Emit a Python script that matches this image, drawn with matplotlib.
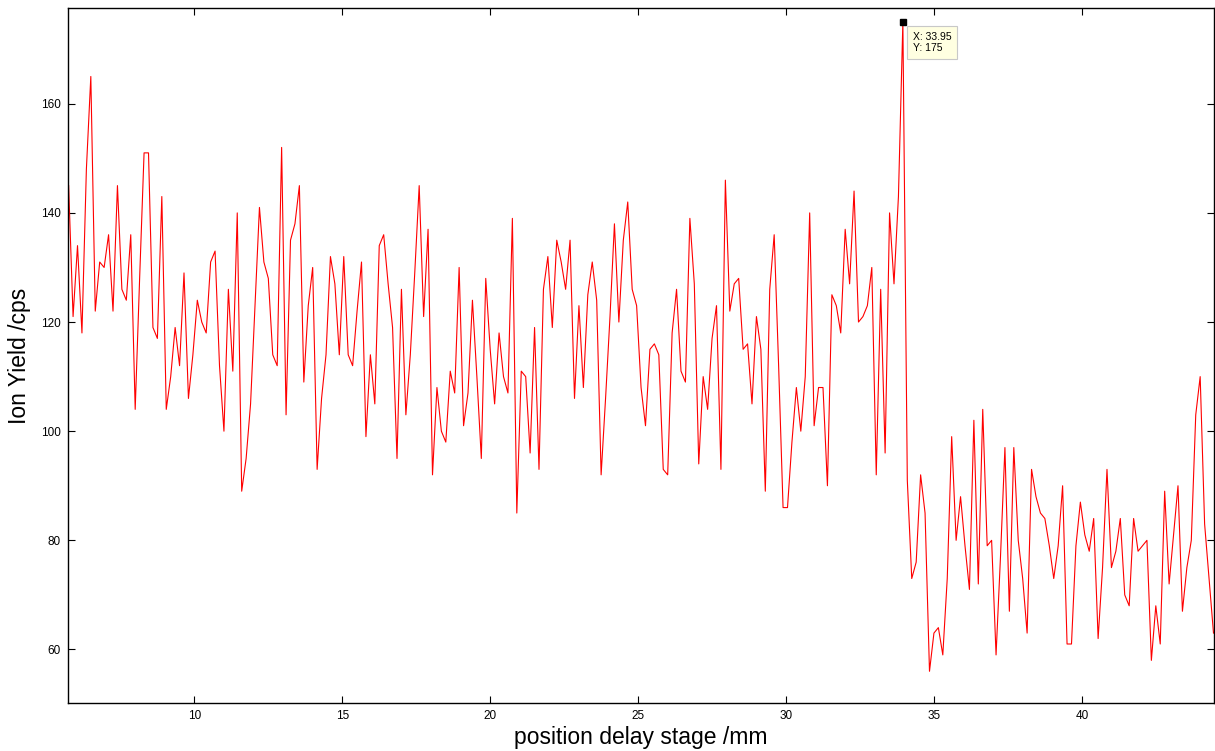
import numpy as np
import matplotlib.pyplot as plt

# delay stage scan, 0.15 mm steps, peak at 33.95 mm
step = 0.15
peak_x = 33.95
peak_idx = 188
ion_yield = [
    145, 121, 134, 118, 148, 165, 122, 131, 130, 136,
    122, 145, 126, 124, 136, 104, 128, 151, 151, 119,
    117, 143, 104, 110, 119, 112, 129, 106, 114, 124,
    120, 118, 131, 133, 112, 100, 126, 111, 140, 89,
    95, 105, 123, 141, 131, 128, 114, 112, 152, 103,
    135, 138, 145, 109, 123, 130, 93, 106, 114, 132,
    127, 114, 132, 114, 112, 122, 131, 99, 114, 105,
    134, 136, 127, 119, 95, 126, 103, 114, 129, 145,
    121, 137, 92, 108, 100, 98, 111, 107, 130, 101,
    107, 124, 110, 95, 128, 115, 105, 118, 110, 107,
    139, 85, 111, 110, 96, 119, 93, 126, 132, 119,
    135, 131, 126, 135, 106, 123, 108, 125, 131, 124,
    92, 106, 121, 138, 120, 135, 142, 126, 123, 108,
    101, 115, 116, 114, 93, 92, 118, 126, 111, 109,
    139, 127, 94, 110, 104, 117, 123, 93, 146, 122,
    127, 128, 115, 116, 105, 121, 115, 89, 126, 136,
    112, 86, 86, 98, 108, 100, 110, 140, 101, 108,
    108, 90, 125, 123, 118, 137, 127, 144, 120, 121,
    123, 130, 92, 126, 96, 140, 127, 143, 175, 91,
    73, 76, 92, 85, 56, 63, 64, 59, 73, 99,
    80, 88, 79, 71, 102, 72, 104, 79, 80, 59,
    77, 97, 67, 97, 80, 73, 63, 93, 88, 85,
    84, 79, 73, 79, 90, 61, 61, 79, 87, 81,
    78, 84, 62, 75, 93, 75, 78, 84, 70, 68,
    84, 78, 79, 80, 58, 68, 61, 89, 72, 81,
    90, 67, 75, 80, 103, 110, 83, 73, 63,
]
position = peak_x + step * (np.arange(len(ion_yield)) - peak_idx)

plt.rcParams['font.family'] = ['Liberation Sans', 'DejaVu Sans']

fig = plt.figure(figsize=(12.15, 7.51), dpi=100)
ax = fig.add_axes([0.056, 0.064, 0.943, 0.925])

ax.plot(position, ion_yield, color='red', lw=0.8)

# data cursor on the maximum
ax.plot(position[peak_idx], ion_yield[peak_idx], 's', color='black',
        markersize=5, clip_on=False, zorder=5)
ax.annotate('X: %.2f\nY: %d' % (position[peak_idx], ion_yield[peak_idx]),
            xy=(position[peak_idx], ion_yield[peak_idx]),
            xytext=(7, -7), textcoords='offset points',
            ha='left', va='top', fontsize=7.5, linespacing=1.15,
            bbox=dict(boxstyle='square,pad=0.55', fc='#ffffe1', ec='#c8c8c8', lw=0.8))

ax.set_xlim(position[0] - 0.02, position[-1] + 0.01)
ax.set_ylim(50.2, 177.5)
ax.set_xticks([10, 15, 20, 25, 30, 35, 40])
ax.set_yticks([60, 80, 100, 120, 140, 160])
ax.tick_params(direction='in', length=5, width=0.8, labelsize=8.5,
               top=True, right=True, pad=5)
for s in ax.spines.values():
    s.set_linewidth(1.0)

ax.set_xlabel('position delay stage /mm', fontsize=16.5, labelpad=3)
ax.set_ylabel('Ion Yield /cps', fontsize=16.5, labelpad=7)

fig.savefig('out.png', dpi=100)
